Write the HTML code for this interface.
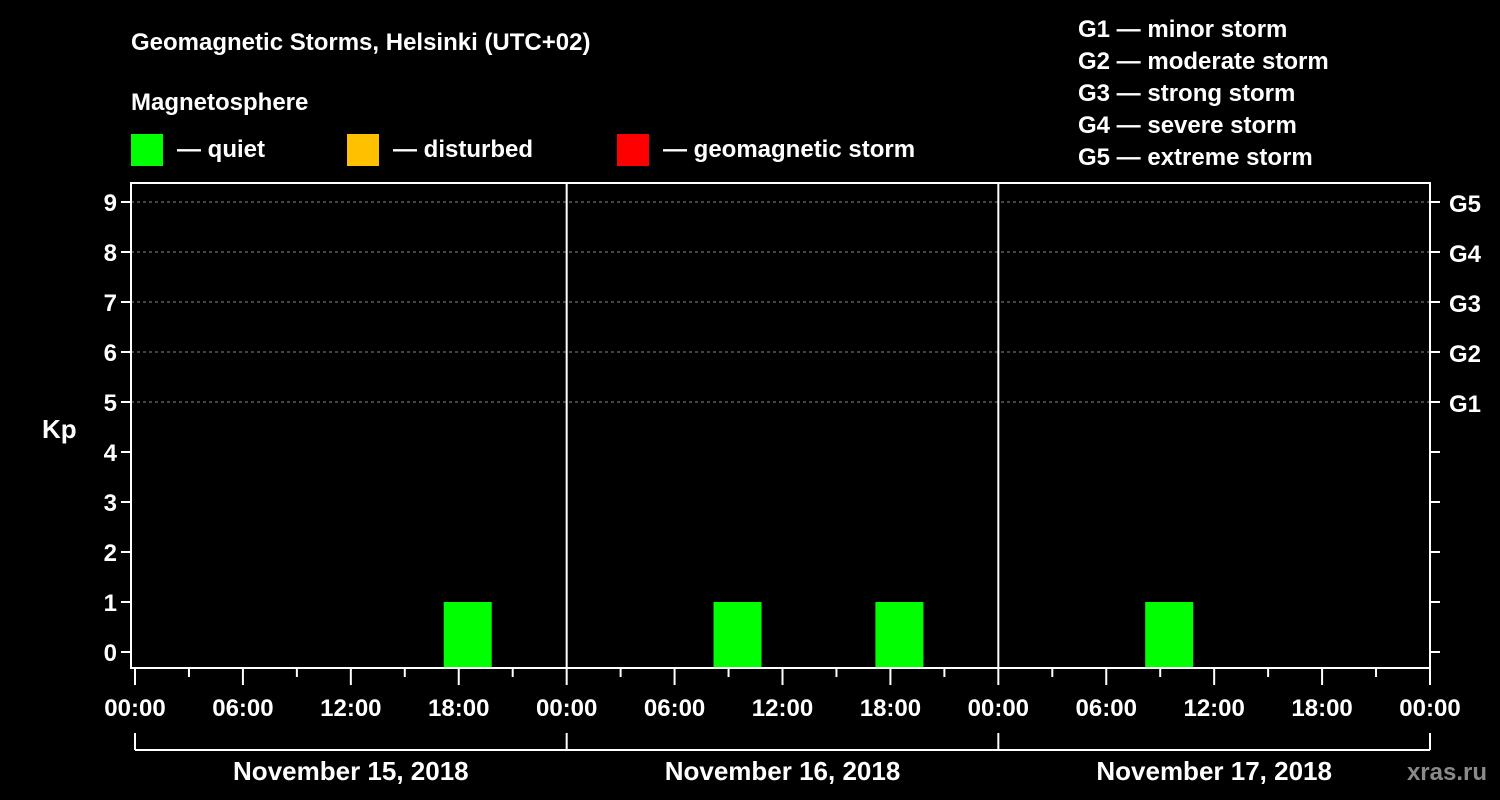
<!DOCTYPE html>
<html><head><meta charset="utf-8"><style>
html,body{margin:0;padding:0;background:#000;width:1500px;height:800px;overflow:hidden}
svg text{font-family:"Liberation Sans",Arial,sans-serif;font-weight:bold;fill:#fff}
</style></head><body>
<svg id="chart" width="1500" height="800" xmlns="http://www.w3.org/2000/svg">
<text x="131" y="50" font-size="24">Geomagnetic Storms, Helsinki (UTC+02)</text>
<text x="131" y="110" font-size="24">Magnetosphere</text>
<rect x="131" y="134" width="32" height="32" fill="#00ff00"/>
<text x="177" y="157" font-size="24">— quiet</text>
<rect x="347" y="134" width="32" height="32" fill="#ffc000"/>
<text x="393" y="157" font-size="24">— disturbed</text>
<rect x="617" y="134" width="32" height="32" fill="#ff0000"/>
<text x="663" y="157" font-size="24">— geomagnetic storm</text>
<g font-size="24">
<text x="1078" y="37">G1 — minor storm</text>
<text x="1078" y="69">G2 — moderate storm</text>
<text x="1078" y="101">G3 — strong storm</text>
<text x="1078" y="133">G4 — severe storm</text>
<text x="1078" y="165">G5 — extreme storm</text>
</g>
<text x="42" y="438" font-size="26">Kp</text>
<g id="plot"></g>
</svg>
<script>
const kpValues=[0,0,0,0,0,0,1,0, 0,0,0,1,0,0,1,0, 0,0,0,1,0,0,0,0];
const yTicks=[0,1,2,3,4,5,6,7,8,9];
const gLabels=["G1","G2","G3","G4","G5"];
const gLevels=[5,6,7,8,9];
const xLabels=["00:00","06:00","12:00","18:00","00:00","06:00","12:00","18:00","00:00","06:00","12:00","18:00","00:00"];
const days=["November 15, 2018","November 16, 2018","November 17, 2018"];
const firstBinCenter=0.5, binHours=3;

const L=131,R=1430,T=183,B=668,X0=135;
const xs=h=>X0+(R-X0)*h/72;
const ys=v=>652-50*v;
const NS="http://www.w3.org/2000/svg";
const g=document.getElementById('plot');
function mk(t,a,txt){const e=document.createElementNS(NS,t);for(const k in a)e.setAttribute(k,a[k]);if(txt!==undefined)e.textContent=txt;g.appendChild(e);return e;}
// grid
gLevels.forEach(v=>{const e=mk('line',{x1:L,x2:R,y1:ys(v),y2:ys(v),stroke:'#888','stroke-dasharray':'3,3','stroke-width':1});

});
// bars
kpValues.forEach((v,i)=>{if(v<=0)return;const c=firstBinCenter+i*binHours;const w=(xs(binHours)-xs(0))*0.89;
const e=mk('rect',{x:xs(c)-w/2,y:ys(v),width:w,height:B-ys(v),fill:v>=5?'#ff0000':(v>=4?'#ffc000':'#00ff00')});

});
// frame
const fr=mk('rect',{x:L,y:T,width:R-L,height:B-T,fill:'none',stroke:'#fff','stroke-width':2});


[1,2].forEach(d=>{const e=mk('line',{x1:xs(24*d),x2:xs(24*d),y1:T,y2:B,stroke:'#fff','stroke-width':2});

});
// y ticks
yTicks.forEach(v=>{mk('line',{x1:L-10,x2:L,y1:ys(v),y2:ys(v),stroke:'#fff','stroke-width':2});
mk('line',{x1:R,x2:R+10,y1:ys(v),y2:ys(v),stroke:'#fff','stroke-width':2});
const t=mk('text',{x:L-14,y:ys(v)+9,'font-size':24,'text-anchor':'end'},String(v));

});
gLevels.forEach((v,i)=>{const t=mk('text',{x:R+19,y:ys(v)+10,'font-size':24},gLabels[i]);

});
// x ticks
for(let h=0;h<=72;h+=3){const major=h%6===0;mk('line',{x1:xs(h),x2:xs(h),y1:B,y2:B+(major?17:9),stroke:'#fff','stroke-width':2});}
xLabels.forEach((s,i)=>{const t=mk('text',{x:xs(i*6),y:716,'font-size':24,'text-anchor':'middle'},s);

});
// day brackets
mk('line',{x1:xs(0),x2:xs(72),y1:750,y2:750,stroke:'#fff','stroke-width':2});
for(let d=0;d<=3;d++)mk('line',{x1:xs(24*d),x2:xs(24*d),y1:733,y2:750,stroke:'#fff','stroke-width':2});
days.forEach((s,i)=>{const t=mk('text',{x:xs(24*i+12),y:780,'font-size':26,'text-anchor':'middle'},s);

});
const w=mk('text',{x:1487,y:780,'font-size':24,'text-anchor':'end',fill:'#888',style:'fill:#8a8a8a'},'xras.ru');


</script>
</body></html>
